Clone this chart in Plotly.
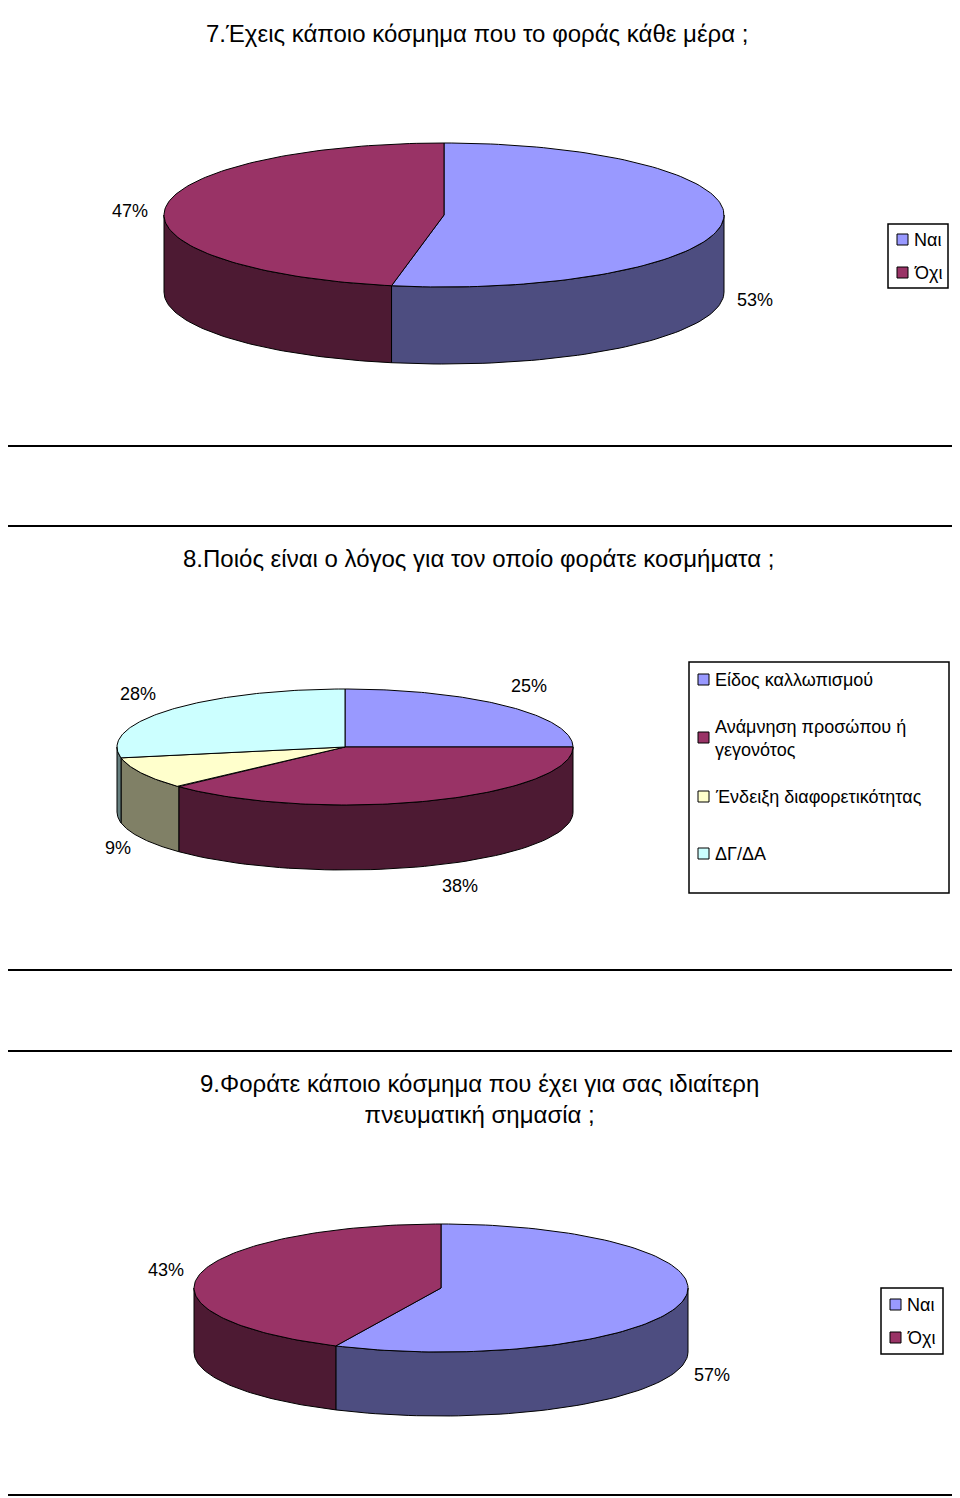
import numpy as np
import plotly.graph_objects as go

# ---- data ----
q7_labels = ["Ναι", "Όχι"]
q7_values = [53, 47]
q8_labels = ["Είδος καλλωπισμού", "Ανάμνηση προσώπου ή<br>γεγονότος",
             "Ένδειξη διαφορετικότητας", "ΔΓ/ΔΑ"]
q8_values = [25, 38, 9, 28]
q9_labels = ["Ναι", "Όχι"]
q9_values = [57, 43]

top_cols = ["#9999FF", "#993366", "#FFFFCC", "#CCFFFF"]
side_cols = ["#4D4D80", "#4D1A33", "#808066", "#668080"]
FONT = "Liberation Sans, Arial, sans-serif"

fig = go.Figure()


def pt(cx, cy, rx, ry, ang, dy=0):
    r = np.radians(ang)
    return cx + rx * np.sin(r), cy - ry * np.cos(r) + dy


def pie3d(values, cx, cy, rx, ry, depth):
    angs = np.concatenate([[0], np.cumsum(values) / sum(values) * 360])
    # side faces (front half only)
    for i in range(len(values)):
        s, e = max(angs[i], 90), min(angs[i + 1], 270)
        if s >= e:
            continue
        t = np.linspace(s, e, 60)
        xt, yt = pt(cx, cy, rx, ry, t)
        xs = np.concatenate([xt, xt[::-1], xt[:1]])
        ys = np.concatenate([yt, yt[::-1] + depth, yt[:1]])
        fig.add_trace(go.Scatter(x=xs, y=ys, mode="lines", fill="toself",
                                 fillcolor=side_cols[i],
                                 line=dict(color="black", width=1),
                                 hoverinfo="skip", showlegend=False))
    # top faces
    for i in range(len(values)):
        t = np.linspace(angs[i], angs[i + 1], 120)
        xt, yt = pt(cx, cy, rx, ry, t)
        xs = np.concatenate([[cx], xt, [cx]])
        ys = np.concatenate([[cy], yt, [cy]])
        fig.add_trace(go.Scatter(x=xs, y=ys, mode="lines", fill="toself",
                                 fillcolor=top_cols[i],
                                 line=dict(color="black", width=1),
                                 hoverinfo="skip", showlegend=False))


def label(x, y, text, size=18, **kw):
    fig.add_annotation(x=x, y=y, text=text, showarrow=False,
                       font=dict(family=FONT, size=size, color="black"), **kw)


def legend(x0, y0, x1, y1, items, ys, size=18):
    fig.add_shape(type="rect", x0=x0, y0=y0, x1=x1, y1=y1,
                  line=dict(color="black", width=1.5), fillcolor="white")
    for i, (txt, yy) in enumerate(zip(items, ys)):
        fig.add_shape(type="rect", x0=x0 + 9, x1=x0 + 20, y0=yy - 6, y1=yy + 5,
                      line=dict(color="black", width=1), fillcolor=top_cols[i])
        label(x0 + 24, yy, txt, size=size, xanchor="left", yanchor="middle",
              align="left")


# panel borders
for y0, y1 in [(2, 446), (526, 970), (1051, 1495)]:
    fig.add_shape(type="rect", x0=3, x1=956, y0=y0, y1=y1,
                  line=dict(color="black", width=2))

# ---- 7 ----
label(477, 33, "7.Έχεις κάποιο κόσμημα που το φοράς κάθε μέρα ;", size=24)
pie3d(q7_values, 444, 215, 280, 72, 77)
label(130, 211, "47%")
label(755, 300, "53%")
legend(888, 224, 948, 288, q7_labels, [240, 273])

# ---- 8 ----
label(478, 558, "8.Ποιός είναι ο λόγος για τον οποίο φοράτε κοσμήματα ;", size=24)
pie3d(q8_values, 345, 747, 228, 58, 65)
label(138, 694, "28%")
label(529, 686, "25%")
label(118, 848, "9%")
label(460, 886, "38%")
legend(689, 662, 949, 893, q8_labels, [680, 738, 797, 854])

# ---- 9 ----
label(479, 1099, "9.Φοράτε κάποιο κόσμημα που έχει για σας ιδιαίτερη<br>πνευματική σημασία ;",
      size=24)
pie3d(q9_values, 441, 1288, 247, 64, 64)
label(166, 1270, "43%")
label(712, 1375, "57%")
legend(881, 1288, 943, 1354, q9_labels, [1305, 1338])

# the page puts the plot 8px in from the corner; shift the axes to match
fig.update_layout(width=944, height=1490, margin=dict(l=0, r=0, t=0, b=0),
                  plot_bgcolor="white", paper_bgcolor="white",
                  xaxis=dict(range=[8, 952], visible=False, fixedrange=True),
                  yaxis=dict(range=[1498, 8], visible=False, fixedrange=True))
fig.write_html("out.html")
